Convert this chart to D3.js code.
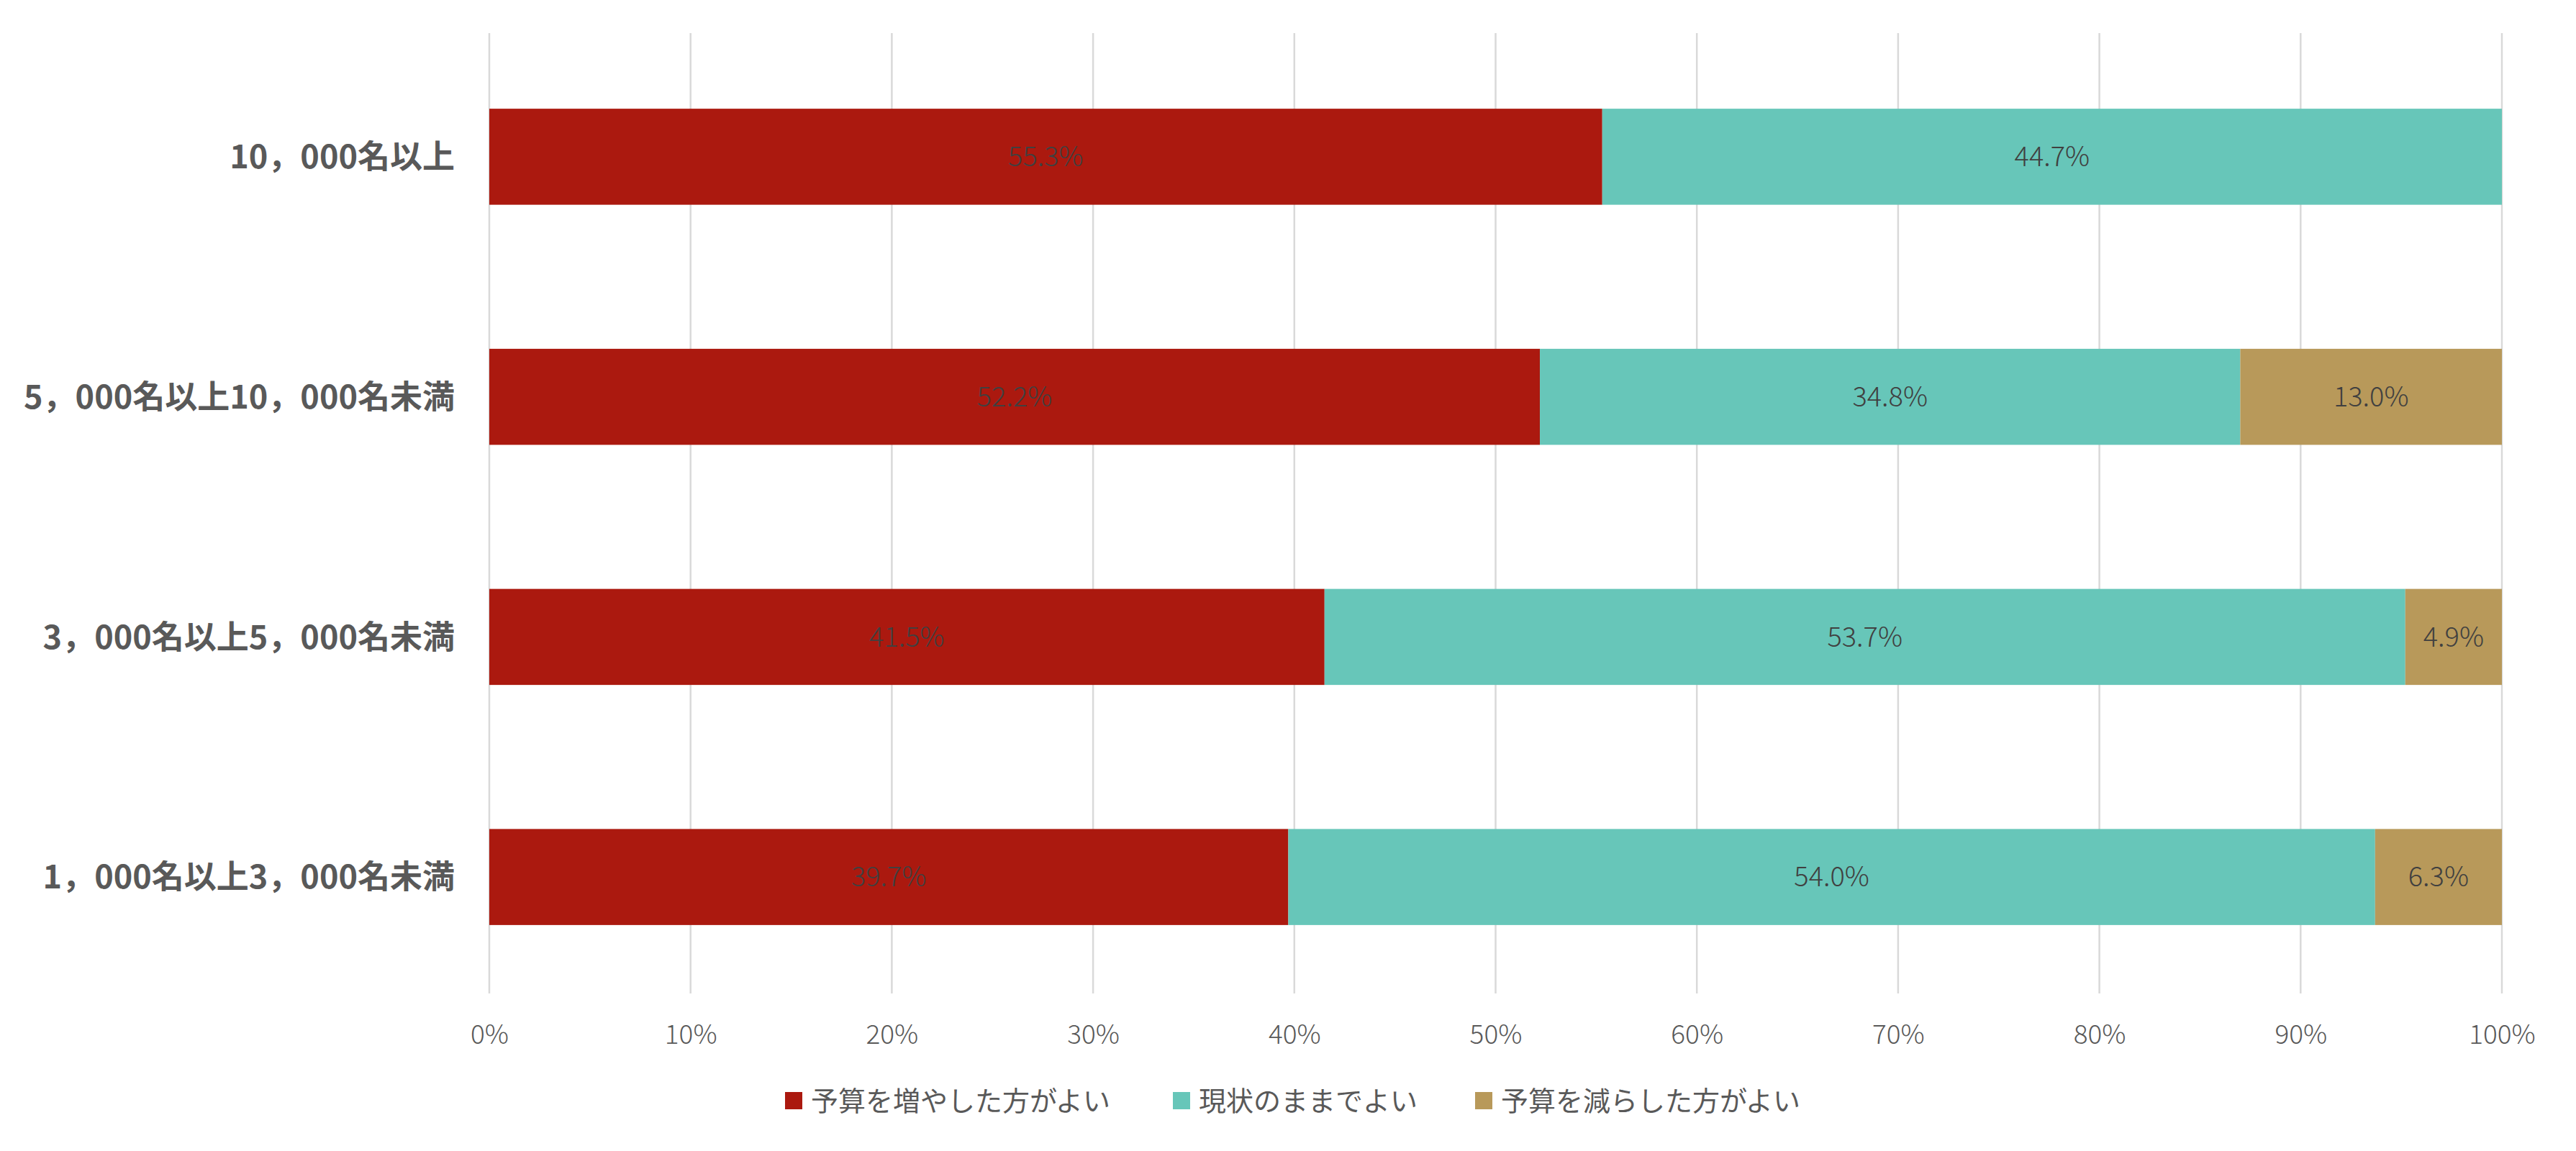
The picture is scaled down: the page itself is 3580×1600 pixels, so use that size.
<!DOCTYPE html>
<html><head><meta charset="utf-8">
<script src="https://cdn.jsdelivr.net/npm/d3@7"></script>
<style>body{margin:0;background:#fff}</style>
</head><body>
<svg id="c" width="3580" height="1600"></svg>
<script>
const categories = ["10，000名以上","5，000名以上10，000名未満","3，000名以上5，000名未満","1，000名以上3，000名未満"];
const seriesNames = ["予算を増やした方がよい","現状のままでよい","予算を減らした方がよい"];
const increase = [55.3, 52.2, 41.5, 39.7];
const keep = [44.7, 34.8, 53.7, 54.0];
const decrease = [0, 13.0, 4.9, 6.3];
const xTicks = [0,10,20,30,40,50,60,70,80,90,100];
const colors = ["#AB190F","#67C6B9","#B8995A"];

const svg = d3.select("#c");
const m = {left:680, right:3477, top:46, bottom:1381};
const x = d3.scaleLinear().domain([0,100]).range([m.left,m.right]);
const y = d3.scaleBand().domain(categories).range([m.top+5,m.bottom+5]).paddingInner(0.6).paddingOuter(0.3);

// gridlines
svg.append("g").selectAll("line").data(xTicks).join("line")
  .attr("x1",d=>x(d)).attr("x2",d=>x(d)).attr("y1",m.top).attr("y2",m.bottom)
  .attr("stroke","#D9D9D9").attr("stroke-width",2.5);

const rows = categories.map((c,i)=>({cat:c, vals:[increase[i],keep[i],decrease[i]]}));
const segs = [];
rows.forEach(r=>{let acc=0; r.vals.forEach((v,j)=>{segs.push({cat:r.cat,s:j,x0:acc,x1:acc+v,v}); acc+=v;});});

const g = svg.append("g");
g.selectAll("rect").data(segs.filter(d=>d.v>0)).join("rect")
  .attr("x",d=>x(d.x0)).attr("width",d=>x(Math.min(d.x1,100))-x(d.x0))
  .attr("y",d=>y(d.cat)).attr("height",y.bandwidth())
  .attr("fill",d=>colors[d.s]);

g.selectAll("text").data(segs.filter(d=>d.v>0)).join("text")
  .attr("x",d=>(x(d.x0)+x(Math.min(d.x1,100)))/2)
  .attr("y",d=>y(d.cat)+y.bandwidth()/2)
  .attr("dy","0.35em").attr("text-anchor","middle")
  .attr("font-family","'Noto Sans CJK JP','Noto Sans',sans-serif").attr("font-weight",300)
  .attr("font-size",38).attr("fill","#404040")
  .text(d=>d.v.toFixed(1)+"%");

// y labels
svg.append("g").selectAll("text").data(categories).join("text")
  .attr("x",m.left-48).attr("y",d=>y(d)+y.bandwidth()/2).attr("dy","0.36em")
  .attr("text-anchor","end").attr("font-family","'Noto Sans CJK JP',sans-serif")
  .attr("font-weight",700).attr("font-size",45).attr("fill","#595959").text(d=>d);

// x axis labels
const xa = d3.axisBottom(x).tickValues(xTicks).tickFormat(d=>d+"%").tickSize(0).tickPadding(0);
const ax = svg.append("g").attr("transform",`translate(0,${m.bottom+70})`).call(xa);
ax.select(".domain").remove();
ax.selectAll("text").attr("font-family","'Noto Sans CJK JP',sans-serif").attr("font-weight",300)
  .attr("font-size",37).attr("fill","#595959").attr("dy","0");

// legend
const legX = [1091,1630,2050];
const lg = svg.append("g").selectAll("g").data(seriesNames).join("g")
  .attr("transform",(d,i)=>`translate(${legX[i]},1530)`);
lg.append("rect").attr("x",0).attr("y",-12).attr("width",24).attr("height",24).attr("fill",(d,i)=>colors[i]);
lg.append("text").attr("x",36).attr("y",0).attr("dy","0.36em")
  .attr("font-family","'Noto Sans CJK JP',sans-serif").attr("font-size",38).attr("fill","#595959").text(d=>d);
</script>
</body></html>
